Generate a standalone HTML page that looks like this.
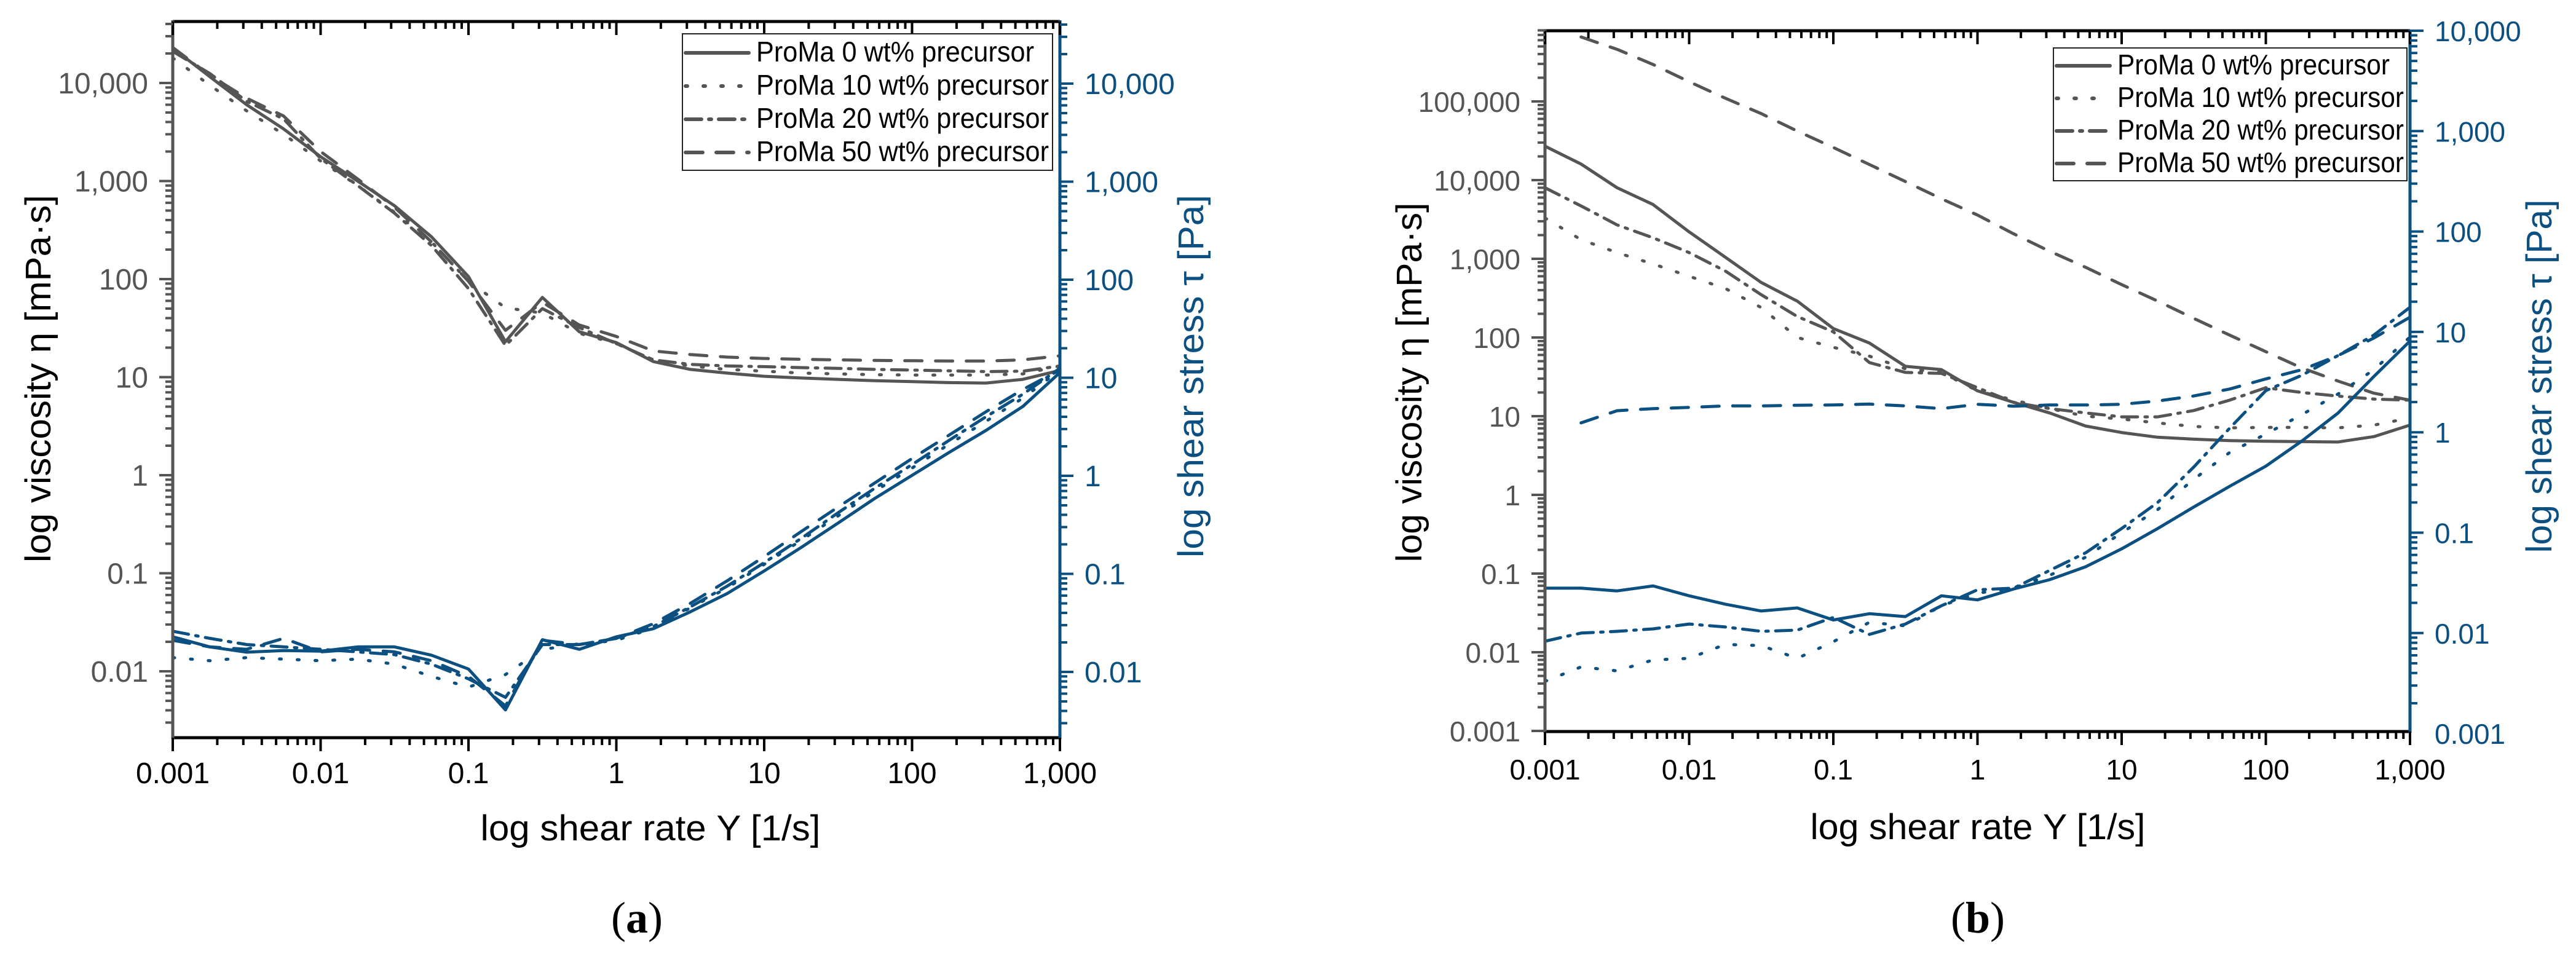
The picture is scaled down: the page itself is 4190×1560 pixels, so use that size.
<!DOCTYPE html>
<html><head><meta charset="utf-8"><style>
html,body{margin:0;padding:0;background:#fff;}
svg{display:block;font-family:"Liberation Sans",Arial,sans-serif;}
</style></head><body>
<svg id="fig" width="4190" height="1560" viewBox="0 0 4190 1560" xmlns="http://www.w3.org/2000/svg"></svg>
<script>
// Shear-rate grid (1/s), 4 points per decade 0.001..1000
const shearRate = [0.001,0.00178,0.00316,0.00562,0.01,0.0178,0.0316,0.0562,0.1,0.178,0.316,0.562,1,1.78,3.16,5.62,10,17.8,31.6,56.2,100,178,316,562,1000];
const legendLabels = ["ProMa 0 wt% precursor","ProMa 10 wt% precursor","ProMa 20 wt% precursor","ProMa 50 wt% precursor"];
const xTickValues = [0.001,0.01,0.1,1,10,100,1000];
const xTickLabels = ["0.001","0.01","0.1","1","10","100","1,000"];

// Panel (a) viscosity [mPa·s]
const aVisc0  = [22700,11600,6000,3400,1770,1000,560,270,106,23,65,29,22.5,14.4,12,11,10.2,9.8,9.5,9.2,9.0,8.8,8.7,9.5,11.7];
const aVisc10 = [18000,9500,5200,3000,1600,900,480,240,95,51,45,28,22,15,13,12,11.5,11,10.8,10.6,10.5,10.5,10.5,10.8,13];
const aVisc20 = [21000,12500,6500,4300,1700,900,470,220,80,21,50,32,22,15,13.5,13,12.8,12.5,12.3,12,11.8,11.6,11.4,11.5,13];
const aVisc50 = [23000,12000,7000,4600,2000,1050,540,240,95,30,58,34,26,18.5,17,16,15.5,15.2,15,14.8,14.7,14.6,14.6,15,16.5];
// Panel (a) shear stress [Pa]
const aStress0  = [0.0228,0.018,0.0159,0.0165,0.0163,0.018,0.018,0.0148,0.0107,0.0041,0.0213,0.017,0.0228,0.0276,0.041,0.063,0.107,0.186,0.33,0.59,1.01,1.73,2.9,5.1,11.3];
const aStress10 = [0.014,0.013,0.014,0.0135,0.013,0.0135,0.012,0.009,0.007,0.0094,0.017,0.019,0.021,0.028,0.045,0.072,0.125,0.22,0.39,0.7,1.2,2.1,3.6,6.2,12];
const aStress20 = [0.026,0.022,0.019,0.018,0.017,0.016,0.015,0.012,0.0085,0.0055,0.019,0.019,0.022,0.029,0.046,0.075,0.13,0.23,0.42,0.75,1.3,2.3,4.0,6.8,12.5];
const aStress50 = [0.021,0.018,0.017,0.022,0.016,0.017,0.016,0.013,0.009,0.0045,0.021,0.019,0.022,0.031,0.05,0.085,0.15,0.27,0.48,0.85,1.5,2.6,4.5,7.6,12];

// Panel (b) viscosity [mPa·s]
const bVisc0  = [27000,16000,8000,4900,2200,1050,500,290,130,85,43,39,21,15,11,7.5,6.2,5.4,5.1,4.9,4.8,4.75,4.7,5.5,7.7];
const bVisc10 = [3300,1750,1200,860,600,420,240,100,75,58,40,36,21,16,12.5,10,9.2,8.2,7.4,7.1,7.2,7.2,7.1,7.7,9.5];
const bVisc20 = [8000,4700,2700,1850,1200,700,350,185,118,48,36,35,23,15,12.5,11,9.8,9.8,11.8,16,23,20,18,16.5,16];
const bVisc50 = [null,660000,460000,295000,178000,110000,70000,42000,26000,15800,9600,5800,3600,2080,1250,780,470,290,175,107,66,41,28,19.6,16];
// Panel (b) shear stress [Pa]
const bStress0  = [0.028,0.028,0.0263,0.0295,0.0235,0.0194,0.0166,0.0178,0.0135,0.0156,0.0146,0.0235,0.0214,0.0275,0.034,0.0457,0.069,0.11,0.18,0.29,0.46,0.82,1.55,3.6,8.1];
const bStress10 = [0.0033,0.0046,0.0042,0.0054,0.0056,0.0077,0.0075,0.0056,0.0082,0.0128,0.0118,0.0187,0.025,0.028,0.0375,0.057,0.1,0.17,0.34,0.63,0.96,1.5,2.4,4.2,8.9];
const bStress20 = [0.0083,0.01,0.0104,0.011,0.0123,0.0115,0.0104,0.0107,0.0143,0.0097,0.0123,0.0187,0.027,0.028,0.042,0.063,0.11,0.2,0.45,1.1,2.6,3.7,5.8,9.3,17.6];
const bStress50 = [null,1.24,1.64,1.72,1.77,1.83,1.83,1.86,1.87,1.91,1.83,1.72,1.9,1.82,1.87,1.87,1.9,2.05,2.3,2.7,3.4,4.2,5.8,8.7,14];

const GRAY="#555555", BLUE="#0b5080", BLACK="#000";
const DASHES=[null,"3 26","26 12 4 12","28 22"];
const NS="http://www.w3.org/2000/svg";
const svg=document.getElementById('fig');
function mk(tag,attrs,parent){const e=document.createElementNS(NS,tag);for(const k in attrs)e.setAttribute(k,attrs[k]);(parent||svg).appendChild(e);return e;}
const L=Math.log10;

function panel(cfg){
  const g=mk('g',{});
  
  
  const xs=v=>cfg.x0+(L(v)+3)/6*(cfg.x1-cfg.x0);
  const yl=v=>cfg.lRef+(cfg.lRefLog-L(v))*cfg.lDec;
  const yr=v=>cfg.rRef+(cfg.rRefLog-L(v))*cfg.rDec;
  const clip=mk('clipPath',{id:'clip-'+cfg.id},g);
  mk('rect',{x:cfg.x0,y:cfg.yT,width:cfg.x1-cfg.x0,height:cfg.yB-cfg.yT},clip);
  const dg=mk('g',{'clip-path':'url(#clip-'+cfg.id+')'},g);
  function series(arr,scale,color,i,name){
    let d='';let started=false;
    arr.forEach((v,k)=>{if(v==null){return;}d+=(started?'L':'M')+xs(shearRate[k]).toFixed(1)+' '+scale(v).toFixed(1)+' ';started=true;});
    const p=mk('path',{d:d,fill:'none',stroke:color,'stroke-width':5,'stroke-linecap':'round','stroke-linejoin':'round'},dg);
    if(DASHES[i])p.setAttribute('stroke-dasharray',DASHES[i]);
    
    
  }
  cfg.visc.forEach((a,i)=>series(a,yl,GRAY,i,cfg.id+'-viscosity-line-'+i));
  cfg.stress.forEach((a,i)=>series(a,yr,BLUE,i,cfg.id+'-stress-line-'+i));
  const ax=mk('g',{},g);
  
  
  mk('line',{x1:cfg.x0,y1:cfg.yT,x2:cfg.x1,y2:cfg.yT,stroke:BLACK,'stroke-width':5},ax);
  mk('line',{x1:cfg.x0,y1:cfg.yB,x2:cfg.x1,y2:cfg.yB,stroke:BLACK,'stroke-width':5},ax);
  mk('line',{x1:cfg.x0,y1:cfg.yT-2,x2:cfg.x0,y2:cfg.yB+2,stroke:GRAY,'stroke-width':5},ax);
  mk('line',{x1:cfg.x1,y1:cfg.yT-2,x2:cfg.x1,y2:cfg.yB+2,stroke:BLUE,'stroke-width':5},ax);
  for(let e=-3;e<=3;e++){
    for(let m=1;m<=9;m++){
      const v=m*Math.pow(10,e); if(v>1000.001)break;
      const x=xs(v); const maj=(m===1);
      mk('line',{x1:x,y1:cfg.yB,x2:x,y2:cfg.yB+(maj?22:12),stroke:BLACK,'stroke-width':4},ax);
      mk('line',{x1:x,y1:cfg.yT,x2:x,y2:cfg.yT+(maj?22:12),stroke:BLACK,'stroke-width':4},ax);
    }
  }
  xTickValues.forEach((v,i)=>{
    const t=mk('text',{x:xs(v),y:cfg.xLabY,'font-size':cfg.fs,'text-anchor':'middle',fill:BLACK},ax);
    t.textContent=xTickLabels[i];
    
    
  });
  function yTicks(scale,side,color,labels){
    for(let e=-4;e<=7;e++){
      for(let m=1;m<=9;m++){
        const v=m*Math.pow(10,e); const y=scale(v);
        if(y<cfg.yT-1||y>cfg.yB+1)continue;
        const maj=(m===1); const len=maj?22:12;
        const x=side<0?cfg.x0:cfg.x1;
        mk('line',{x1:x,y1:y,x2:x+side*len,y2:y,stroke:color,'stroke-width':4},ax);
      }
    }
    labels.forEach(lb=>{
      const y=scale(lb.v); if(y<cfg.yT-30||y>cfg.yB+5)return;
      const t=mk('text',{x:side<0?cfg.x0-40:cfg.x1+40,y:y+17,'font-size':cfg.fs,'text-anchor':side<0?'end':'start',fill:color},ax);
      t.textContent=lb.t;
      
      
    });
  }
  const allLab=[{v:0.001,t:"0.001"},{v:0.01,t:"0.01"},{v:0.1,t:"0.1"},{v:1,t:"1"},{v:10,t:"10"},{v:100,t:"100"},{v:1000,t:"1,000"},{v:10000,t:"10,000"},{v:100000,t:"100,000"}];
  yTicks(yl,-1,GRAY,allLab.filter(l=>cfg.leftLabels.includes(l.v)));
  yTicks(yr,1,BLUE,allLab.filter(l=>cfg.rightLabels.includes(l.v)));
  let t=mk('text',{x:cfg.xTitleX,y:cfg.xTitleY,'font-size':58,'text-anchor':'middle',fill:BLACK,textLength:cfg.xTitleW,lengthAdjust:'spacingAndGlyphs'},g);
  t.textContent="log shear rate Υ [1/s]";
  
  t=mk('text',{x:0,y:0,'font-size':58,'text-anchor':'middle',fill:BLACK,textLength:cfg.lTitleW,lengthAdjust:'spacingAndGlyphs',transform:`translate(${cfg.lTitleX},${cfg.lTitleY}) rotate(-90)`},g);
  t.textContent="log viscosity η [mPa·s]";
  
  t=mk('text',{x:0,y:0,'font-size':58,'text-anchor':'middle',fill:BLUE,textLength:cfg.rTitleW,lengthAdjust:'spacingAndGlyphs',transform:`translate(${cfg.rTitleX},${cfg.rTitleY}) rotate(-90)`},g);
  t.textContent="log shear stress τ [Pa]";
  
  const lg=mk('g',{},g);
  
  
  mk('rect',{x:cfg.lgX,y:cfg.lgY,width:cfg.lgW,height:cfg.lgH,fill:'#fff',stroke:'#222','stroke-width':2},lg);
  legendLabels.forEach((lab,i)=>{
    const yb=cfg.lgY+cfg.lgRow0+i*cfg.lgRowH;
    const ln=mk('line',{x1:cfg.lgX+5,y1:yb-14,x2:cfg.lgX+cfg.lgSample,y2:yb-14,stroke:GRAY,'stroke-width':6,'stroke-linecap':'round'},lg);
    if(DASHES[i])ln.setAttribute('stroke-dasharray',DASHES[i]);
    
    const tx=mk('text',{x:cfg.lgX+cfg.lgSample+12,y:yb,'font-size':46,fill:BLACK,textLength:cfg.lgTextW[i],lengthAdjust:'spacingAndGlyphs'},lg);
    tx.textContent=lab;
    
  });
  const pl=mk('text',{x:cfg.plX,y:1517,'font-size':72,'text-anchor':'middle',fill:BLACK,'font-family':'"Liberation Serif",serif'},g);
  pl.innerHTML='(<tspan font-weight="bold">'+cfg.id+'</tspan>)';
  
}

panel({id:'a',x0:281,x1:1724,yT:35,yB:1200,lRef:135,lRefLog:4,lDec:159.5,rRef:136,rRefLog:4,rDec:159.5,
  visc:[aVisc0,aVisc10,aVisc20,aVisc50],stress:[aStress0,aStress10,aStress20,aStress50],
  leftLabels:[0.01,0.1,1,10,100,1000,10000],rightLabels:[0.01,0.1,1,10,100,1000,10000],
  fs:48,xLabY:1274,xTitleX:1058,xTitleY:1367,xTitleW:553,lTitleX:82,lTitleY:616,lTitleW:598,rTitleX:1957,rTitleY:612,rTitleW:590,
  lgX:1110,lgY:55,lgW:602,lgH:222,lgRow0:45,lgRowH:54,lgSample:108,lgTextW:[452,476,476,476],plX:1036});
panel({id:'b',x0:2513,x1:3920,yT:50,yB:1190,lRef:165,lRefLog:5,lDec:128,rRef:50,rRefLog:4,rDec:163.3,
  visc:[bVisc0,bVisc10,bVisc20,bVisc50],stress:[bStress0,bStress10,bStress20,bStress50],
  leftLabels:[0.001,0.01,0.1,1,10,100,1000,10000,100000],rightLabels:[0.001,0.01,0.1,1,10,100,1000,10000],
  fs:46,xLabY:1268,xTitleX:3217,xTitleY:1365,xTitleW:545,lTitleX:2312,lTitleY:622,lTitleW:585,rTitleX:4150,rTitleY:612,rTitleW:575,
  lgX:3340,lgY:78,lgW:575,lgH:216,lgRow0:43,lgRowH:53,lgSample:92,lgTextW:[443,466,466,466],plX:3217});
</script>
</body></html>
